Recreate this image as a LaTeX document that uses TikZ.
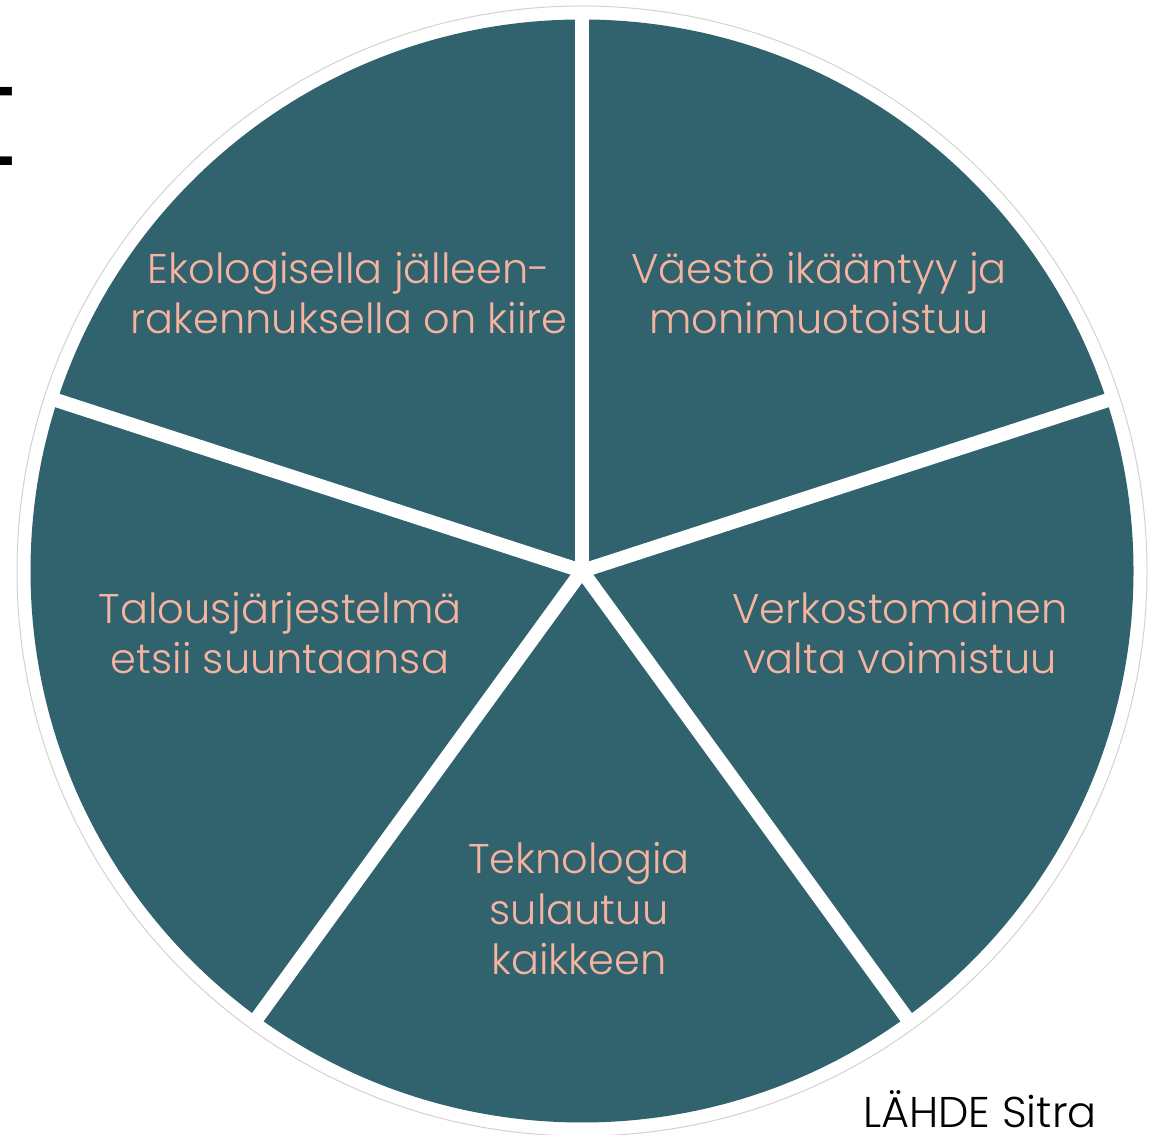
\documentclass[tikz,border=0pt]{standalone}
\usepackage{fontspec}
\setmainfont{Poppins Light}
\definecolor{tealpie}{RGB}{49,99,110}
\definecolor{salmon}{RGB}{246,180,160}
\definecolor{ringgrey}{RGB}{210,210,210}
\begin{document}
\begin{tikzpicture}[x=1pt,y=1pt,
  lbl/.style={text=salmon, font=\fontsize{41.5}{50.5}\selectfont, align=center, inner sep=0pt},
  gap/.style={white, line width=14pt},
  src/.style={text=black, font=\fontsize{43}{48}\selectfont, inner sep=0pt}]
\useasboundingbox (0,0) rectangle (1158,1134);
\begin{scope}
\clip (0,0) rectangle (1158,1134);
\node[anchor=base east, inner sep=0pt, font=\fontsize{143}{143}\selectfont] (tfrag) at (18,968) {t};
\end{scope}
\coordinate (c) at (582,563);
\fill[tealpie] (c) circle (551.5);
\foreach \a in {90,18,-54,-126,162} \draw[gap] (c) -- ++(\a:556);
\draw[ringgrey, line width=1pt] (c) circle (565);
\node[lbl] (eko) at (349,841) {Ekologisella jälleen-\\rakennuksella on kiire};
\node[lbl] (vae) at (819,841) {Väestö ikääntyy ja\\monimuotoistuu};
\node[lbl] (ver) at (900,501) {Verkostomainen\\valta voimistuu};
\node[lbl] (tal) at (280,501) {Talousjärjestelmä\\etsii suuntaansa};
\node[lbl] (tek) at (579,225) {Teknologia\\sulautuu\\kaikkeen};
\node[src, anchor=base west] (lah) at (863,7) {LÄHDE Sitra};
\end{tikzpicture}
\end{document}
